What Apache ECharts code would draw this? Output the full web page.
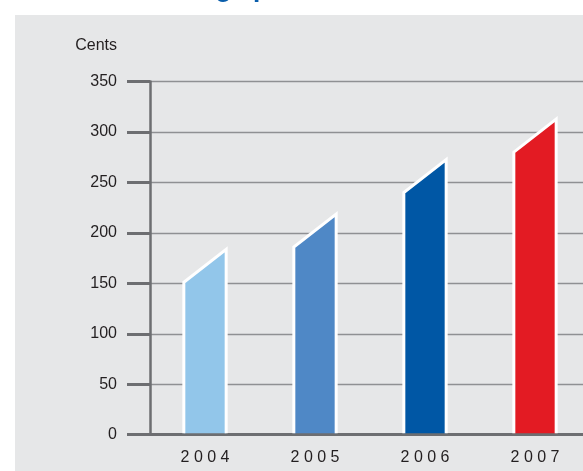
<!DOCTYPE html>
<html><head><meta charset="utf-8">
<script src="https://cdn.jsdelivr.net/npm/echarts@6/dist/echarts.min.js"></script>
<style>html,body{margin:0;padding:0;background:#fff}#c{width:583px;height:471px}</style>
</head><body><div id="c"></div>
<script>
// ---- data ----
const years = ['2004', '2005', '2006', '2007'];
const eps = [151, 186, 240, 280];          // cents (front/left edge of each column)
const barColors = ['#92c6ea', '#4f88c6', '#0057a5', '#e31b23'];
const yMin = 0, yMax = 350, yStep = 50;
const titleText = 'Earnings per share';
const axisName = 'Cents';

// ---- style constants ----
const SLANT_PX = 33;
const BAR_RATIO = 0.385;
const FONT = '"Liberation Sans", Arial, sans-serif';

const chart = echarts.init(document.getElementById('c'), null, {renderer: 'canvas'});
chart.setOption({
  backgroundColor: '#ffffff',
  animation: false,
  graphic: [
    {type: 'rect', z: -100, left: 15, top: 15, shape: {width: 568, height: 456}, style: {fill: '#e6e7e8'}, silent: true},
    {type: 'text', z: 10, x: 134.5, y: -10.5, style: {text: titleText, font: 'bold 26px ' + FONT, fill: '#0a5eab', verticalAlign: 'middle'}}
  ],
  grid: {left: 150, width: 440, top: 81.5, bottom: 36.3, containLabel: false, outerBoundsMode: 'none'},
  xAxis: {
    type: 'category',
    data: years,
    axisLine: {lineStyle: {color: '#6d6e71', width: 3}},
    axisTick: {show: false},
    axisLabel: {
      formatter: v => v.split('').join(' '),
      fontSize: 16, fontFamily: FONT, color: '#231f20', margin: 15
    },
    splitLine: {show: false}
  },
  yAxis: {
    type: 'value',
    min: yMin, max: yMax, interval: yStep,
    name: axisName,
    nameLocation: 'end',
    nameGap: 36,
    nameTextStyle: {fontSize: 16, fontFamily: FONT, color: '#231f20', align: 'right', verticalAlign: 'middle', padding: [0, 33, 0, 0]},
    axisLine: {show: true, lineStyle: {color: '#6d6e71', width: 2.5}},
    axisTick: {show: true, length: 23, lineStyle: {color: '#6d6e71', width: 3}},
    axisLabel: {fontSize: 16, fontFamily: FONT, color: '#231f20', margin: 33},
    splitLine: {show: true, lineStyle: {color: '#8f9093', width: 1.3}}
  },
  series: [{
    type: 'custom',
    data: years.map((y, i) => [i, eps[i]]),
    encode: {x: 0, y: 1},
    renderItem(params, api) {
      const i = api.value(0);
      const top = api.coord([i, api.value(1)]);
      const base = api.coord([i, 0]);
      const band = api.size([1, 0])[0];
      const w = band * BAR_RATIO;
      const x0 = top[0] - w / 2, x1 = top[0] + w / 2;
      const yL = top[1], yR = top[1] - SLANT_PX, yB = base[1] - 1.5;
      return {
        type: 'group',
        children: [
          {type: 'polygon', shape: {points: [[x0, yB], [x0, yL], [x1, yR], [x1, yB]]}, style: {fill: barColors[i]}},
          {type: 'polyline', shape: {points: [[x0, yB], [x0, yL], [x1, yR], [x1, yB]]},
           style: {fill: null, stroke: '#ffffff', lineWidth: 3, lineJoin: 'miter'}}
        ]
      };
    }
  }]
});
</script>
</body></html>
